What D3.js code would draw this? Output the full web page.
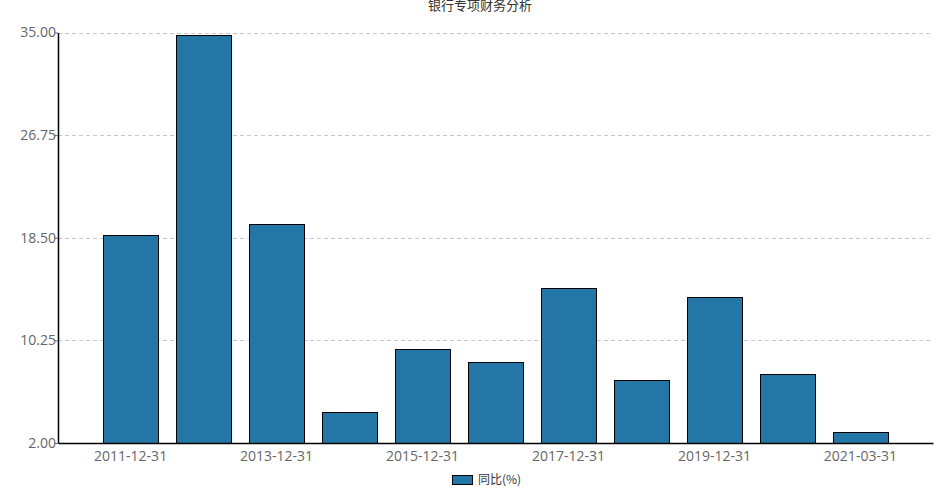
<!DOCTYPE html>
<html>
<head>
<meta charset="utf-8">
<script src="https://cdn.jsdelivr.net/npm/d3@7"></script>
<style>
  body { margin: 0; background: #fff; }
  text { font-family: "Open Sans", "Noto Sans CJK SC", sans-serif; }
</style>
</head>
<body>
<div class="chart"></div>
<script>
var width = 945;
var height = 499;

var categories = ["2011-12-31", "2012-12-31", "2013-12-31", "2014-12-31", "2015-12-31",
  "2016-12-31", "2017-12-31", "2018-12-31", "2019-12-31", "2020-12-31", "2021-03-31"];
var yoy = [18.74, 34.77, 19.62, 4.47, 9.53, 8.48, 14.5, 7.04, 13.75, 7.52, 2.86];
var yTicks = [2, 10.25, 18.5, 26.75, 35];
var shownLabels = ["2011-12-31", "2013-12-31", "2015-12-31", "2017-12-31", "2019-12-31", "2021-03-31"];

var plotLeft = 58, plotRight = 933, plotTop = 32.5, plotBottom = 443;

var svg = d3.select("div.chart").append("svg")
    .attr("width", width)
    .attr("height", height);

var x = d3.scaleBand()
    .domain(categories)
    .range([plotLeft, plotRight])
    .paddingInner(0.25)
    .paddingOuter(0.62);

var y = d3.scaleLinear()
    .domain([2, 35])
    .range([plotBottom, plotTop]);

// grid lines
svg.append("g").selectAll("line").data(yTicks.slice(1)).enter()
    .append("line")
    .attr("x1", plotLeft)
    .attr("x2", plotRight)
    .attr("y1", function(d){ return Math.round(y(d)) + 0.5 })
    .attr("y2", function(d){ return Math.round(y(d)) + 0.5 })
    .attr("stroke", "#c8c8c8")
    .attr("stroke-dasharray", "4,3");

// bars
svg.append("g").selectAll("rect").data(yoy).enter()
    .append("rect")
    .attr("x", function(d, i){ return Math.round(x(categories[i])) + 0.5 })
    .attr("y", function(d){ return Math.round(y(d)) + 0.5 })
    .attr("width", Math.round(x.bandwidth()))
    .attr("height", function(d){ return Math.round(y(2)) - Math.round(y(d)) })
    .attr("fill", "#2376a5")
    .attr("stroke", "#000")
    .attr("stroke-width", 1);

// y axis
var yAxis = svg.append("g")
    .attr("transform", "translate(" + plotLeft + ",0)")
    .call(d3.axisLeft(y).tickValues(yTicks).tickFormat(d3.format(".2f")).tickSize(3).tickSizeOuter(0));
yAxis.select(".domain").attr("stroke", "#000").attr("stroke-width", 1.5);
yAxis.selectAll(".tick line").attr("stroke", "#666");
yAxis.selectAll(".tick text")
    .attr("fill", "#666")
    .attr("x", -2)
    .style("font-size", "14px")
    .style("font-family", "'Open Sans', sans-serif");

// x axis
var xAxis = svg.append("g")
    .attr("transform", "translate(0," + plotBottom + ")")
    .call(d3.axisBottom(x).tickValues(shownLabels).tickSize(0).tickSizeOuter(0));
xAxis.select(".domain").attr("stroke", "#000").attr("stroke-width", 1.5);
xAxis.selectAll(".tick text")
    .attr("fill", "#666")
    .attr("dy", "1.05em")
    .style("font-size", "14px")
    .style("font-family", "'Open Sans', sans-serif");

// title
svg.append("text")
    .attr("x", 480)
    .attr("y", 10)
    .attr("text-anchor", "middle")
    .attr("fill", "#333")
    .style("font-size", "13px")
    .style("font-family", "'Noto Sans CJK SC', sans-serif")
    .text("银行专项财务分析");

// legend
svg.append("rect")
    .attr("x", 452.5)
    .attr("y", 475.5)
    .attr("width", 20)
    .attr("height", 9)
    .attr("fill", "#2376a5")
    .attr("stroke", "#000");

svg.append("text")
    .attr("x", 478)
    .attr("y", 484)
    .attr("fill", "#333")
    .style("font-size", "12px")
    .style("font-family", "'Noto Sans CJK SC', sans-serif")
    .text("同比(%)");
</script>
</body>
</html>
